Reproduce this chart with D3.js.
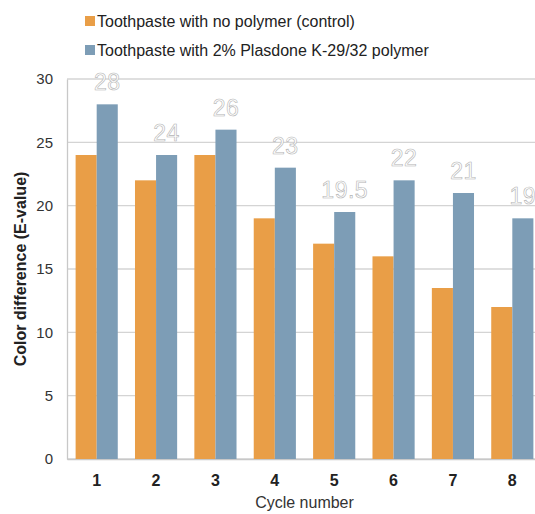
<!DOCTYPE html>
<html>
<head>
<meta charset="utf-8">
<script src="https://cdn.jsdelivr.net/npm/d3@7"></script>
<style>
  html, body { margin: 0; padding: 0; background: #fff; }
  svg { display: block; }
</style>
</head>
<body>
<svg id="chart" width="535" height="514"></svg>
<script>
// Cycle numbers and measured colour differences for each toothpaste
const cycles = ["1", "2", "3", "4", "5", "6", "7", "8"];
const controlValues = [24, 22, 24, 19, 17, 16, 13.5, 12];
const polymerValues = [28, 24, 26, 23, 19.5, 22, 21, 19];
const seriesNames = [
  "Toothpaste with no polymer (control)",
  "Toothpaste with 2% Plasdone K-29/32 polymer"
];
const seriesColors = ["#E99E47", "#7D9DB6"];
const yTicks = [0, 5, 10, 15, 20, 25, 30];

const svg = d3.select("#chart");
const margin = { left: 67, top: 79, right: 542, bottom: 459 };

const x = d3.scaleBand()
  .domain(cycles)
  .range([margin.left, margin.right])
  .paddingInner(0.29)
  .paddingOuter(0.145);

const x1 = d3.scaleBand()
  .domain([0, 1])
  .range([0, x.bandwidth()]);

const y = d3.scaleLinear()
  .domain([0, 30])
  .range([margin.bottom, margin.top]);

// Horizontal gridlines
svg.append("g")
  .selectAll("line")
  .data(yTicks)
  .join("line")
  .attr("x1", margin.left)
  .attr("x2", margin.right)
  .attr("y1", d => y(d))
  .attr("y2", d => y(d))
  .attr("stroke", "#d4d4d4")
  .attr("stroke-width", 1.3);

// Value axis
const yAxis = svg.append("g")
  .attr("transform", `translate(${margin.left},0)`)
  .call(d3.axisLeft(y).tickValues(yTicks).tickSize(0).tickPadding(14));
yAxis.select(".domain").attr("stroke", "#c8c8c8").attr("stroke-width", 1.3);
yAxis.selectAll("text")
  .attr("font-family", "'Liberation Sans Narrow', 'Arial Narrow', 'Liberation Sans', Arial, sans-serif")
  .attr("font-size", 15)
  .attr("fill", "#333");

// Category axis
const xAxis = svg.append("g")
  .attr("transform", `translate(0,${margin.bottom})`)
  .call(d3.axisBottom(x).tickSize(0).tickPadding(16));
xAxis.select(".domain").attr("stroke", "#c8c8c8").attr("stroke-width", 1.3);
xAxis.selectAll("text")
  .attr("font-family", "'Liberation Sans Narrow', 'Arial Narrow', 'Liberation Sans', Arial, sans-serif")
  .attr("font-weight", "bold")
  .attr("font-size", 16)
  .attr("fill", "#222");

// Bars
const rows = cycles.map((c, i) => ({ cycle: c, values: [controlValues[i], polymerValues[i]] }));
const groups = svg.append("g")
  .selectAll("g")
  .data(rows)
  .join("g")
  .attr("transform", d => `translate(${x(d.cycle)},0)`);

groups.selectAll("rect")
  .data(d => d.values.map((v, k) => ({ v, k })))
  .join("rect")
  .attr("x", d => x1(d.k))
  .attr("width", x1.bandwidth())
  .attr("y", d => y(d.v))
  .attr("height", d => y(0) - y(d.v))
  .attr("fill", d => seriesColors[d.k]);

// Outlined value labels above the polymer bars
groups.append("text")
  .attr("x", x1(1) + x1.bandwidth() / 2)
  .attr("y", d => y(d.values[1]) - 14)
  .attr("text-anchor", "middle")
  .attr("font-family", "'Liberation Sans', Arial, sans-serif")
  .attr("font-size", 23)
  .attr("letter-spacing", 0.5)
  .attr("fill", "#ffffff")
  .attr("stroke", "#b4b4b4")
  .attr("stroke-width", 0.6)
  .text(d => d.values[1]);

// Axis titles
svg.append("text")
  .attr("transform", `translate(26,${(margin.top + margin.bottom) / 2}) rotate(-90)`)
  .attr("text-anchor", "middle")
  .attr("font-family", "'Liberation Sans', Arial, sans-serif")
  .attr("font-size", 16)
  .attr("font-weight", "bold")
  .attr("fill", "#222")
  .text("Color difference (E-value)");

svg.append("text")
  .attr("x", (margin.left + margin.right) / 2)
  .attr("y", 508)
  .attr("text-anchor", "middle")
  .attr("font-family", "'Liberation Sans', Arial, sans-serif")
  .attr("font-size", 16)
  .attr("fill", "#333")
  .text("Cycle number");

// Legend
const legend = svg.append("g")
  .selectAll("g")
  .data(seriesNames)
  .join("g")
  .attr("transform", (d, i) => `translate(85,${21 + i * 29})`);

legend.append("rect")
  .attr("x", 0)
  .attr("y", -5)
  .attr("width", 10)
  .attr("height", 10)
  .attr("fill", (d, i) => seriesColors[i]);

legend.append("text")
  .attr("x", 12)
  .attr("y", 0)
  .attr("dy", "0.35em")
  .attr("font-family", "'Liberation Sans', Arial, sans-serif")
  .attr("font-size", 16)
  .attr("fill", "#222")
  .text(d => d);
</script>
</body>
</html>
